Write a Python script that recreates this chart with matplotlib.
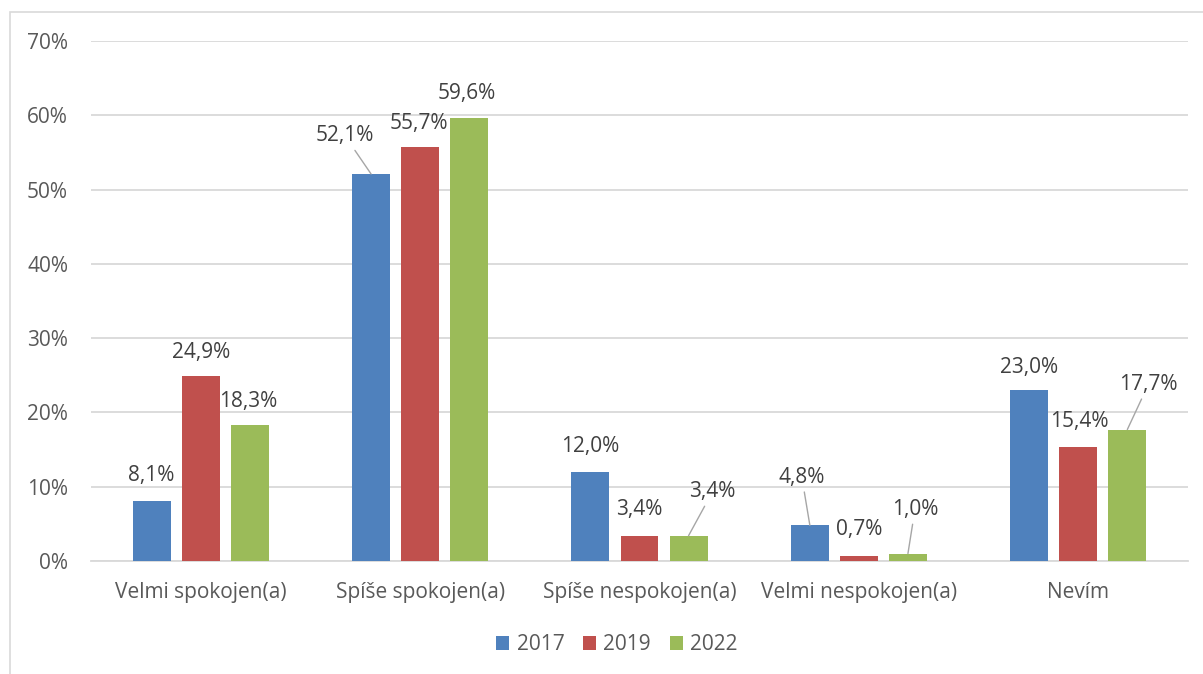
import matplotlib
matplotlib.use("Agg")
import matplotlib.pyplot as plt
from matplotlib.patches import Rectangle
import numpy as np

categories = ["Velmi spokojen(a)", "Spíše spokojen(a)", "Spíše nespokojen(a)",
              "Velmi nespokojen(a)", "Nevím"]
series_names = ["2017", "2019", "2022"]
v2017 = [8.1, 52.1, 12.0, 4.8, 23.0]
v2019 = [24.9, 55.7, 3.4, 0.7, 15.4]
v2022 = [18.3, 59.6, 3.4, 1.0, 17.7]
yticks = [0, 10, 20, 30, 40, 50, 60, 70]

colors = ["#4F81BD", "#C0504D", "#9BBB59"]
# label offsets (pixels) relative to bar top centre; (dx, dy, leader)
offsets = [
    [(0, 25, False), (-26, 38, True), (0, 25, False), (-8, 48, True), (0, 23, False)],
    [(0, 24, False), (-1, 24, False), (0, 26, False), (0, 26, False), (1, 25, False)],
    [(-2, 24, False), (-2, 25, False), (24, 44, True), (7, 44, True), (21, 45, True)],
]

plt.rcParams['font.family'] = ['Open Sans', 'DejaVu Sans']
FS = 15
W, H = 1203, 674
fig = plt.figure(figsize=(W / 100, H / 100), dpi=100)
ax = fig.add_axes([91 / W, 1 - 561 / H, (1188 - 91) / W, (561 - 41) / H])

# figure border
fig.patches.append(Rectangle((10 / W, -0.1), 1.2, 1 - 12 / H + 0.1, transform=fig.transFigure,
                             fill=False, edgecolor="#D9D9D9", linewidth=1.2))

x = np.arange(len(categories))
step = 0.2235
width = 0.173
data = [v2017, v2019, v2022]
for s, (vals, col, name) in enumerate(zip(data, colors, series_names)):
    xs = x + (s - 1) * step
    ax.bar(xs, vals, width=width, color=col, label=name, zorder=3)
    for i, v in enumerate(vals):
        dx, dy, leader = offsets[s][i]
        label = f"{v:.1f}%".replace(".", ",")
        kw = {}
        if leader:
            kw["arrowprops"] = dict(arrowstyle="-", color="#A6A6A6", lw=1.0,
                                    shrinkA=1, shrinkB=0)
        ax.annotate(label, xy=(xs[i], v), xytext=(dx, dy), textcoords="offset pixels",
                    ha="center", va="center", fontsize=FS, color="#404040", **kw)

ax.set_xlim(-0.5, len(categories) - 0.5)
ax.set_ylim(0, 70)
ax.set_yticks(yticks)
ax.set_yticklabels([f"{t}%" for t in yticks])
ax.set_xticks(x)
ax.set_xticklabels(categories)
ax.tick_params(axis="both", length=0, labelsize=FS, labelcolor="#595959")
ax.tick_params(axis="y", pad=16.5)
ax.tick_params(axis="x", pad=15)
ax.grid(axis="y", color="#D9D9D9", linewidth=1.3, zorder=0)
for sp in ["top", "right", "left"]:
    ax.spines[sp].set_visible(False)
ax.spines["bottom"].set_color("#D9D9D9")
ax.spines["bottom"].set_linewidth(1.3)

leg = fig.legend(loc="center", bbox_to_anchor=(617 / W, 1 - 645 / H), ncol=3, frameon=False,
                 fontsize=FS, handlelength=0.62, handleheight=0.62, handletextpad=0.35,
                 columnspacing=0.9, labelcolor="#595959")

fig.savefig("out.png", dpi=100)
